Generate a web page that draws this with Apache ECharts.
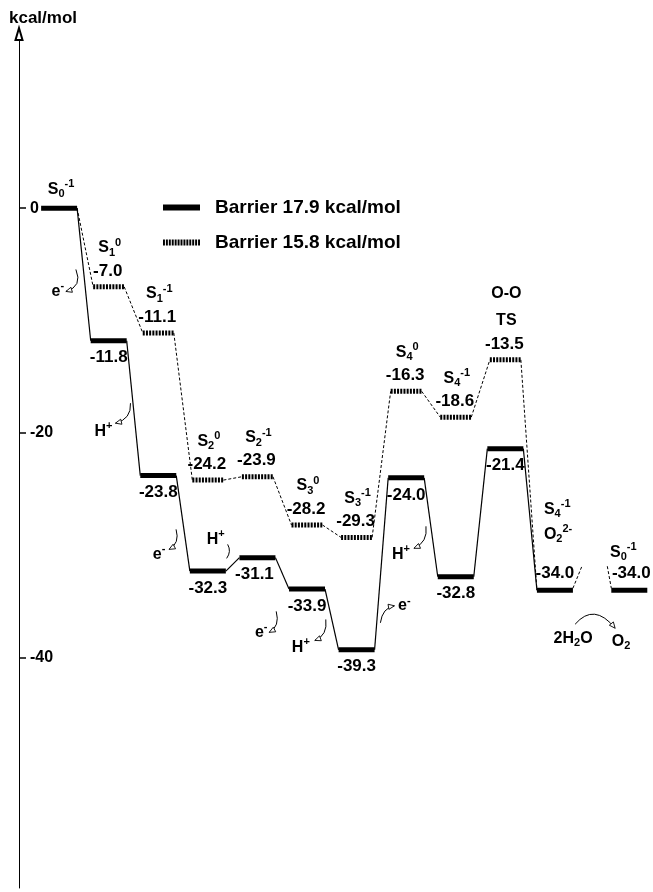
<!DOCTYPE html>
<html><head><meta charset="utf-8">
<script src="https://cdn.jsdelivr.net/npm/echarts@6/dist/echarts.min.js"></script>
<style>html,body{margin:0;padding:0;background:#fff}#c{width:653px;height:892px}</style>
</head><body><div id="c"></div>
<script>
// ---------------- data ----------------
const yAxisName = 'kcal/mol';
const yTicks = [0, -20, -40];
const seriesNames = ['Barrier 17.9 kcal/mol', 'Barrier 15.8 kcal/mol'];
const solidLevels = [0, -11.8, -23.8, -32.3, -31.1, -33.9, -39.3, -24.0, -32.8, -21.4, -34.0, -34.0];
const dashedLevels = [0, -7.0, -11.1, -24.2, -23.9, -28.2, -29.3, -16.3, -18.6, -13.5, -34.0];
const solidStates = [['S_0^-1'], [], [], [], [], [], [], [], [], [], ['S_4^-1', 'O_2^2-'], ['S_0^-1']];
const dashedStates = [[], ['S_1^0'], ['S_1^-1'], ['S_2^0'], ['S_2^-1'], ['S_3^0'], ['S_3^-1'], ['S_4^0'], ['S_4^-1'], ['O-O', 'TS'], []];
const carriers = ['e^-', 'H^+', 'e^-', 'H^+', 'e^-', 'H^+', 'e^-', 'H^+'];
const finalReaction = ['2H_2O', 'O_2'];

// ---------------- layout / style ----------------
const FONT = '"Liberation Sans", Arial, Helvetica, sans-serif';
const BREAK_AFTER = 10, BREAK_GAP = 0.5;
const xOf = i => i + (i > BREAK_AFTER ? BREAK_GAP : 0);
const HW_SOLID = 0.363, HW_DASH = 0.313;
const RICH = {
  b: {fontSize: 16, fontWeight: 'bold', fontFamily: FONT, lineHeight: 21, fill: '#000'},
  v: {fontSize: 17, fontWeight: 'bold', fontFamily: FONT, lineHeight: 20, fill: '#000'},
  sub: {fontSize: 11, fontWeight: 'bold', fontFamily: FONT, verticalAlign: 'bottom', fill: '#000'},
  sup: {fontSize: 11, fontWeight: 'bold', fontFamily: FONT, verticalAlign: 'top', fill: '#000'}
};
function richText(s) {
  let out = '', i = 0;
  while (i < s.length) {
    const c = s[i];
    if (c === '_') { out += '{sub|' + s[i + 1] + '}'; i += 2; }
    else if (c === '^') { out += '{sup|' + s.slice(i + 1) + '}'; break; }
    else { let j = i; while (j < s.length && s[j] !== '_' && s[j] !== '^') j++; out += '{b|' + s.slice(i, j) + '}'; i = j; }
  }
  return out;
}
function textEl(x, y, str, align) {
  return {type: 'text', x: x, y: y, z2: 20,
    style: {text: str, rich: RICH, align: align || 'center', verticalAlign: 'middle', fill: '#000'}};
}
function valText(x, y, v) { return textEl(x, y, '{v|' + v.toFixed(1) + '}'); }
function lineEl(x1, y1, x2, y2, w, dash) {
  const st = {stroke: '#000', lineWidth: w};
  if (dash) st.lineDash = dash;
  return {type: 'line', shape: {x1: x1, y1: y1, x2: x2, y2: y2}, style: st};
}
function arrowEl(M, a, head) {
  const x1 = M[0] + a[0], y1 = M[1] + a[1], cx = M[0] + a[2], cy = M[1] + a[3], x2 = M[0] + a[4], y2 = M[1] + a[5];
  const out = [{type: 'bezierCurve', shape: {x1: x1, y1: y1, cpx1: cx, cpy1: cy, x2: x2, y2: y2},
    style: {stroke: '#000', lineWidth: 1, fill: null}}];
  if (head) {
    let dx = x2 - cx, dy = y2 - cy; const d = Math.hypot(dx, dy) || 1; dx /= d; dy /= d;
    const bx = x2 - dx * 6, by = y2 - dy * 6, px = -dy * 2.6, py = dx * 2.6;
    out.push({type: 'polygon', shape: {points: [[x2, y2], [bx + px, by + py], [bx - px, by - py]]},
      style: {fill: '#fff', stroke: '#000', lineWidth: 0.9}, z2: 5});
  }
  return out;
}

function renderSolid(params, api) {
  const i = params.dataIndex, v = solidLevels[i], n = solidLevels.length;
  const L = api.coord([xOf(i) - HW_SOLID, v]), R = api.coord([xOf(i) + HW_SOLID, v]);
  const cx = (L[0] + R[0]) / 2, y = L[1];
  const ch = [lineEl(L[0], y, R[0], y, 5)];
  if (i < n - 1 && i !== BREAK_AFTER) {
    const N = api.coord([xOf(i + 1) - HW_SOLID, solidLevels[i + 1]]);
    ch.push(lineEl(R[0], y, N[0], N[1], 1.2));
  }
  if (i === BREAK_AFTER) ch.push(lineEl(R[0], y - 2, R[0] + 9, y - 24, 1, [3, 2]));
  if (i === BREAK_AFTER + 1) ch.push(lineEl(L[0] - 4, y - 24, L[0], y - 2, 1, [3, 2]));
  // value labels
  if (i >= 1 && i <= 9) ch.push(valText(cx + (i === 4 ? -3 : 0), y + 17, v));
  else if (i >= 10) ch.push(valText(cx + (i === 11 ? 2 : 0), y - 17, v));
  // state labels
  const st = solidStates[i];
  if (i === 0) ch.push(textEl(cx + 2, y - 19, richText(st[0])));
  else if (i === BREAK_AFTER) st.forEach((s, k) => ch.push(textEl(L[0] + 7, y - 81 + k * 25, richText(s), 'left')));
  else if (st.length) ch.push(textEl(cx - 6, y - 38, richText(st[0])));
  return {type: 'group', children: ch};
}

function renderDashed(params, api) {
  const i = params.dataIndex, v = dashedLevels[i], n = dashedLevels.length;
  const shared = (i === 0 || i === n - 1);
  const hwOf = k => (k === 0 || k === n - 1) ? HW_SOLID : HW_DASH;
  const L = api.coord([xOf(i) - hwOf(i), v]), R = api.coord([xOf(i) + hwOf(i), v]);
  const cx = (L[0] + R[0]) / 2, y = L[1];
  const ch = [];
  if (!shared) ch.push(lineEl(L[0], y, R[0], y, 5, [2, 1.2]));
  if (i < n - 1) {
    const N = api.coord([xOf(i + 1) - hwOf(i + 1), dashedLevels[i + 1]]);
    ch.push(lineEl(R[0], y, N[0], N[1], 1, [3, 2]));
  }
  if (!shared) {
    ch.push(valText(cx - 1, y - 16, v));
    const st = dashedStates[i];
    st.forEach((s, k) => ch.push(textEl(cx + 1, y - 39 - (st.length - 1 - k) * 27, richText(s))));
  }
  return {type: 'group', children: ch};
}

const ANN = [
  {t: [-26, 17], a: [-8, -5, -1, 12, -18, 17], head: true},
  {t: [-30, 23], a: [-3, -5, -2, 11, -18, 15], head: true},
  {t: [-24, 31], a: [-7, 6, -3, 20, -14, 26], head: true},
  {t: [-17, -25], a: [-5, -20, -1, -13, -6, -6], head: false},
  {t: [-21, 59], a: [-6, 38, -2, 53, -13, 59], head: true},
  {t: [-31, 28], a: [-6, 0, -4, 16, -17, 21], head: true},
  {t: [23, 42], a: [-1, 59, 1, 44, 13, 42], head: true},
  {t: [-30, 27], a: [-5, -1, -3, 15, -17, 21], head: true}
];
function renderAnn(params, api) {
  const idx = params.dataIndex;
  const k = idx < carriers.length ? idx : BREAK_AFTER;
  const R = api.coord([xOf(k) + HW_SOLID, solidLevels[k]]);
  const N = api.coord([xOf(k + 1) - HW_SOLID, solidLevels[k + 1]]);
  const M = [(R[0] + N[0]) / 2, (R[1] + N[1]) / 2];
  let ch = [];
  if (idx < carriers.length) {
    const s = ANN[idx];
    ch.push(textEl(M[0] + s.t[0], M[1] + s.t[1], richText(carriers[idx])));
    ch = ch.concat(arrowEl(M, s.a, s.head));
  } else {
    ch.push(textEl(M[0] - 19, M[1] + 48, richText(finalReaction[0])));
    ch.push(textEl(M[0] + 29, M[1] + 51, richText(finalReaction[1])));
    ch = ch.concat(arrowEl(M, [-17, 34, 2, 12, 23, 38], true));
  }
  return {type: 'group', children: ch};
}

let dotIcon = 'path://';
for (let x = 0; x <= 36; x += 3) dotIcon += 'M' + x + ',0h2v6h-2z';

const annData = carriers.map((c, k) => [xOf(k) + 0.5, solidLevels[k + 1]]);
annData.push([xOf(BREAK_AFTER) + 0.5, solidLevels[BREAK_AFTER]]);

const option = {
  animation: false,
  backgroundColor: '#fff',
  title: {text: yAxisName, left: 9, top: 10, padding: 0,
    textStyle: {fontSize: 17, fontWeight: 'bold', fontFamily: FONT, color: '#000'}},
  legend: {
    orient: 'vertical', left: 163, top: 198, padding: 0, itemGap: 16,
    itemWidth: 37, itemHeight: 6, selectedMode: false,
    textStyle: {fontSize: 19, fontWeight: 'bold', fontFamily: FONT, color: '#000', padding: [0, 0, 0, 10]},
    data: [{name: seriesNames[0], icon: 'path://M0,0H37V6H0Z'}, {name: seriesNames[1], icon: dotIcon}]
  },
  grid: {left: 19, right: 0, top: 34, bottom: 4, containLabel: false},
  xAxis: {type: 'value', min: -0.809, max: 11.978, show: false},
  yAxis: {
    type: 'value', min: -60.5, max: 15.5,
    axisLine: {show: true, onZero: false, symbol: ['none', 'emptyTriangle'], symbolSize: [7, 12],
      lineStyle: {color: '#000', width: 1}},
    axisTick: {show: true, inside: true, length: 7, customValues: yTicks, lineStyle: {color: '#000', width: 1.5}},
    axisLabel: {show: true, inside: true, margin: 11, customValues: yTicks, fontSize: 16, fontWeight: 'bold',
      fontFamily: FONT, color: '#000', formatter: v => String(v)},
    splitLine: {show: false}
  },
  series: [
    {name: seriesNames[1], type: 'custom', coordinateSystem: 'cartesian2d', renderItem: renderDashed,
      data: dashedLevels.map((v, i) => [xOf(i), v]), encode: {x: 0, y: 1}, clip: false, silent: true,
      itemStyle: {color: '#000'}, z: 2},
    {name: seriesNames[0], type: 'custom', coordinateSystem: 'cartesian2d', renderItem: renderSolid,
      data: solidLevels.map((v, i) => [xOf(i), v]), encode: {x: 0, y: 1}, clip: false, silent: true,
      itemStyle: {color: '#000'}, z: 3},
    {name: 'annotations', type: 'custom', coordinateSystem: 'cartesian2d', renderItem: renderAnn,
      data: annData, encode: {x: 0, y: 1}, clip: false, silent: true, itemStyle: {color: '#000'}, z: 4}
  ]
};
const chart = echarts.init(document.getElementById('c'), null, {renderer: 'canvas', width: 653, height: 892});
chart.setOption(option);
</script>
</body></html>
